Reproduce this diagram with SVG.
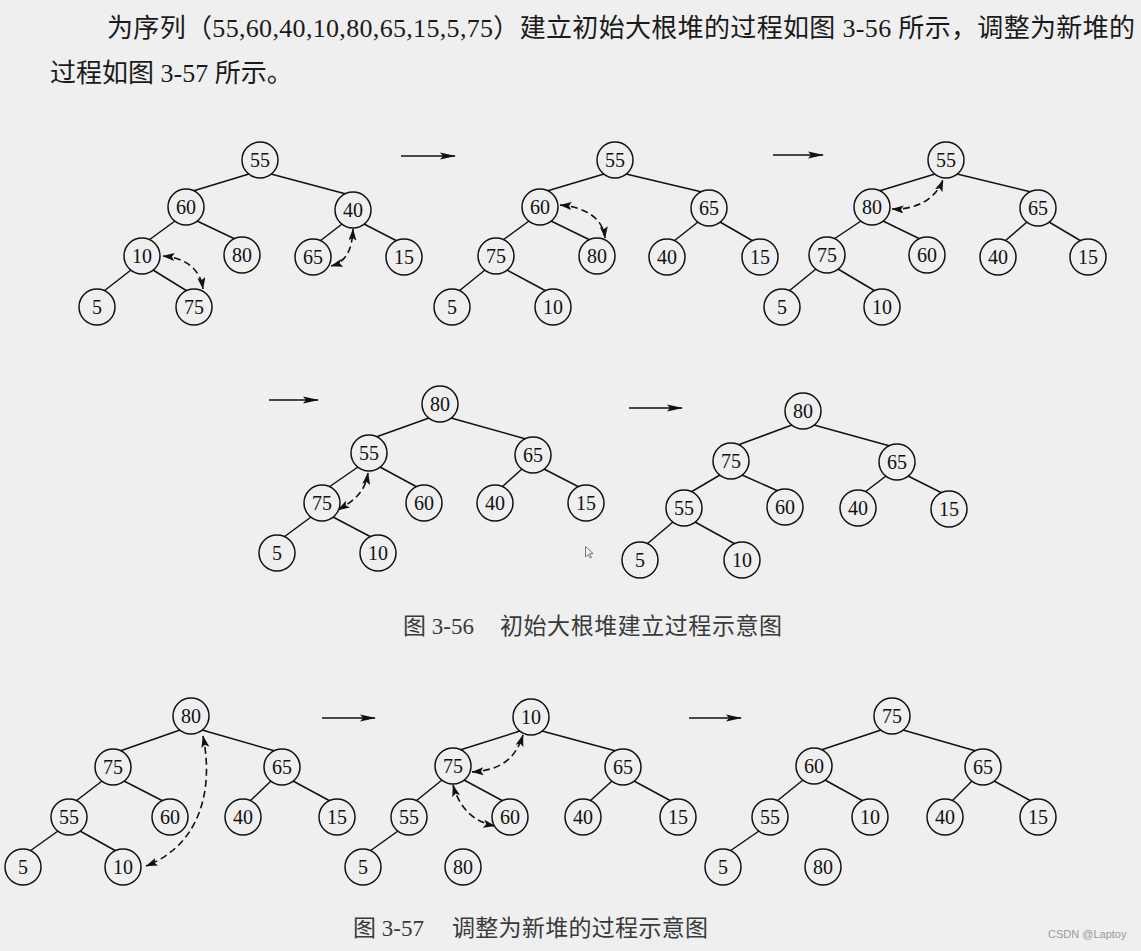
<svg xmlns="http://www.w3.org/2000/svg" width="1141" height="951" viewBox="0 0 1141 951">
<style>
.n circle{fill:#efefef;stroke:#111;stroke-width:1.5}
.n text{font-family:"Liberation Serif","Times New Roman",serif;font-size:20px;fill:#111;text-anchor:middle}
.e{stroke:#111;stroke-width:1.5;fill:none}
.d{stroke:#111;stroke-width:1.6;fill:none;stroke-dasharray:7 4;marker-start:url(#dh);marker-end:url(#dh)}
.s{stroke:#111;stroke-width:1.5;fill:none;marker-end:url(#sh)}
.body{font-family:"Liberation Serif","Noto Sans CJK SC",serif;font-size:26px;fill:#1a1a1a}
.cap{font-family:"Liberation Serif","Noto Sans CJK SC",serif;font-size:23px;fill:#3a3a3a}
</style>
<defs>
<marker id="sh" viewBox="0 0 16 8" refX="15" refY="4" markerWidth="16" markerHeight="8" markerUnits="userSpaceOnUse" orient="auto"><path d="M0,0.5 L16,4 L0,7.5 L3,4 z" fill="#111"/></marker>
<marker id="dh" viewBox="0 0 12 8" refX="11.5" refY="4" markerWidth="12" markerHeight="8" markerUnits="userSpaceOnUse" orient="auto-start-reverse"><path d="M0,0 L12,4 L0,8 L2.5,4 z" fill="#111"/></marker>
</defs>
<rect x="0" y="0" width="1141" height="951" fill="#efefef"/>
<text class="body" x="107" y="37" textLength="1028" lengthAdjust="spacing">为序列（55,60,40,10,80,65,15,5,75）建立初始大根堆的过程如图 3-56 所示，调整为新堆的</text>
<text class="body" x="50" y="82">过程如图 3-57 所示。</text>
<g id="connectors">
<!-- tree 1 -->
<line class="e" x1="249" y1="174" x2="193" y2="191"/><line class="e" x1="271" y1="174" x2="346" y2="194"/>
<line class="e" x1="175" y1="221" x2="149" y2="240"/><line class="e" x1="197" y1="221" x2="235" y2="239"/>
<line class="e" x1="342" y1="224" x2="320" y2="241"/><line class="e" x1="364" y1="224" x2="397" y2="241"/>
<line class="e" x1="131" y1="270" x2="104" y2="291"/><line class="e" x1="153" y1="270" x2="187" y2="291"/>
<!-- tree 2 -->
<line class="e" x1="604" y1="174" x2="547" y2="191"/><line class="e" x1="626" y1="174" x2="702" y2="192"/>
<line class="e" x1="529" y1="221" x2="503" y2="240"/><line class="e" x1="551" y1="221" x2="590" y2="240"/>
<line class="e" x1="698" y1="222" x2="674" y2="241"/><line class="e" x1="720" y1="222" x2="753" y2="241"/>
<line class="e" x1="485" y1="270" x2="459" y2="291"/><line class="e" x1="507" y1="270" x2="546" y2="291"/>
<!-- tree 3 -->
<line class="e" x1="935" y1="174" x2="879" y2="191"/><line class="e" x1="957" y1="174" x2="1031" y2="192"/>
<line class="e" x1="861" y1="221" x2="834" y2="239"/><line class="e" x1="883" y1="221" x2="920" y2="239"/>
<line class="e" x1="1027" y1="222" x2="1005" y2="241"/><line class="e" x1="1049" y1="222" x2="1081" y2="241"/>
<line class="e" x1="816" y1="269" x2="789" y2="291"/><line class="e" x1="838" y1="269" x2="875" y2="291"/>
<!-- tree 4 -->
<line class="e" x1="429" y1="418" x2="376" y2="437"/><line class="e" x1="451" y1="418" x2="526" y2="439"/>
<line class="e" x1="358" y1="467" x2="329" y2="487"/><line class="e" x1="380" y1="467" x2="417" y2="487"/>
<line class="e" x1="522" y1="469" x2="502" y2="487"/><line class="e" x1="544" y1="469" x2="579" y2="487"/>
<line class="e" x1="311" y1="517" x2="284" y2="537"/><line class="e" x1="333" y1="517" x2="371" y2="537"/>
<!-- tree 5 -->
<line class="e" x1="792" y1="425" x2="738" y2="445"/><line class="e" x1="814" y1="425" x2="890" y2="446"/>
<line class="e" x1="720" y1="475" x2="691" y2="492"/><line class="e" x1="742" y1="475" x2="778" y2="491"/>
<line class="e" x1="886" y1="476" x2="865" y2="492"/><line class="e" x1="908" y1="476" x2="942" y2="493"/>
<line class="e" x1="673" y1="522" x2="647" y2="544"/><line class="e" x1="695" y1="522" x2="735" y2="544"/>
<!-- tree 6 -->
<line class="e" x1="180" y1="730" x2="120" y2="751"/><line class="e" x1="202" y1="730" x2="275" y2="751"/>
<line class="e" x1="102" y1="781" x2="76" y2="801"/><line class="e" x1="124" y1="781" x2="163" y2="801"/>
<line class="e" x1="271" y1="781" x2="250" y2="801"/><line class="e" x1="293" y1="781" x2="330" y2="801"/>
<line class="e" x1="58" y1="831" x2="30" y2="851"/><line class="e" x1="80" y1="831" x2="116" y2="851"/>
<!-- tree 7 -->
<line class="e" x1="520" y1="731" x2="460" y2="750"/><line class="e" x1="542" y1="731" x2="616" y2="751"/>
<line class="e" x1="442" y1="780" x2="416" y2="801"/><line class="e" x1="464" y1="780" x2="503" y2="801"/>
<line class="e" x1="612" y1="781" x2="590" y2="801"/><line class="e" x1="634" y1="781" x2="671" y2="801"/>
<line class="e" x1="398" y1="831" x2="370" y2="851"/>
<!-- tree 8 -->
<line class="e" x1="881" y1="730" x2="821" y2="750"/><line class="e" x1="903" y1="730" x2="976" y2="751"/>
<line class="e" x1="803" y1="780" x2="777" y2="801"/><line class="e" x1="825" y1="780" x2="863" y2="801"/>
<line class="e" x1="972" y1="781" x2="952" y2="801"/><line class="e" x1="994" y1="781" x2="1031" y2="801"/>
<line class="e" x1="759" y1="831" x2="730" y2="851"/>
<!-- step arrows -->
<line class="s" x1="401" y1="156" x2="455" y2="156"/>
<line class="s" x1="773" y1="155" x2="823" y2="155"/>
<line class="s" x1="269" y1="400" x2="318" y2="400"/>
<line class="s" x1="629" y1="408" x2="682" y2="408"/>
<line class="s" x1="322" y1="718" x2="375" y2="718"/>
<line class="s" x1="689" y1="718" x2="741" y2="718"/>
<!-- swap arrows -->
<path class="d" d="M163,256 C185,258 200,268 203,289"/>
<path class="d" d="M331,266 C345,262 352,252 353,229"/>
<path class="d" d="M560,205 C585,207 603,218 605,238"/>
<path class="d" d="M892,209 C915,210 935,200 943,180"/>
<path class="d" d="M338,510 C355,500 365,492 368,473"/>
<path class="d" d="M203,736 C214,790 200,845 146,866"/>
<path class="d" d="M472,772 C500,770 515,760 523,735"/>
<path class="d" d="M453,785 C460,810 475,822 495,826"/>
</g>
<g id="nodes">
<g id="t1n0" class="n"><circle cx="260" cy="160" r="18"/><text x="260" y="167">55</text></g>
<g id="t1n1" class="n"><circle cx="186" cy="207" r="18"/><text x="186" y="214">60</text></g>
<g id="t1n2" class="n"><circle cx="353" cy="210" r="18"/><text x="353" y="217">40</text></g>
<g id="t1n3" class="n"><circle cx="142" cy="256" r="18"/><text x="142" y="263">10</text></g>
<g id="t1n4" class="n"><circle cx="242" cy="255" r="18"/><text x="242" y="262">80</text></g>
<g id="t1n5" class="n"><circle cx="313" cy="257" r="18"/><text x="313" y="264">65</text></g>
<g id="t1n6" class="n"><circle cx="404" cy="257" r="18"/><text x="404" y="264">15</text></g>
<g id="t1n7" class="n"><circle cx="97" cy="307" r="18"/><text x="97" y="314">5</text></g>
<g id="t1n8" class="n"><circle cx="194" cy="307" r="18"/><text x="194" y="314">75</text></g>

<g id="t2n0" class="n"><circle cx="615" cy="160" r="18"/><text x="615" y="167">55</text></g>
<g id="t2n1" class="n"><circle cx="540" cy="207" r="18"/><text x="540" y="214">60</text></g>
<g id="t2n2" class="n"><circle cx="709" cy="208" r="18"/><text x="709" y="215">65</text></g>
<g id="t2n3" class="n"><circle cx="496" cy="256" r="18"/><text x="496" y="263">75</text></g>
<g id="t2n4" class="n"><circle cx="597" cy="256" r="18"/><text x="597" y="263">80</text></g>
<g id="t2n5" class="n"><circle cx="667" cy="257" r="18"/><text x="667" y="264">40</text></g>
<g id="t2n6" class="n"><circle cx="760" cy="257" r="18"/><text x="760" y="264">15</text></g>
<g id="t2n7" class="n"><circle cx="452" cy="307" r="18"/><text x="452" y="314">5</text></g>
<g id="t2n8" class="n"><circle cx="553" cy="307" r="18"/><text x="553" y="314">10</text></g>

<g id="t3n0" class="n"><circle cx="946" cy="160" r="18"/><text x="946" y="167">55</text></g>
<g id="t3n1" class="n"><circle cx="872" cy="207" r="18"/><text x="872" y="214">80</text></g>
<g id="t3n2" class="n"><circle cx="1038" cy="208" r="18"/><text x="1038" y="215">65</text></g>
<g id="t3n3" class="n"><circle cx="827" cy="255" r="18"/><text x="827" y="262">75</text></g>
<g id="t3n4" class="n"><circle cx="927" cy="255" r="18"/><text x="927" y="262">60</text></g>
<g id="t3n5" class="n"><circle cx="998" cy="257" r="18"/><text x="998" y="264">40</text></g>
<g id="t3n6" class="n"><circle cx="1088" cy="257" r="18"/><text x="1088" y="264">15</text></g>
<g id="t3n7" class="n"><circle cx="782" cy="307" r="18"/><text x="782" y="314">5</text></g>
<g id="t3n8" class="n"><circle cx="882" cy="307" r="18"/><text x="882" y="314">10</text></g>

<g id="t4n0" class="n"><circle cx="440" cy="404" r="18"/><text x="440" y="411">80</text></g>
<g id="t4n1" class="n"><circle cx="369" cy="453" r="18"/><text x="369" y="460">55</text></g>
<g id="t4n2" class="n"><circle cx="533" cy="455" r="18"/><text x="533" y="462">65</text></g>
<g id="t4n3" class="n"><circle cx="322" cy="503" r="18"/><text x="322" y="510">75</text></g>
<g id="t4n4" class="n"><circle cx="424" cy="503" r="18"/><text x="424" y="510">60</text></g>
<g id="t4n5" class="n"><circle cx="495" cy="503" r="18"/><text x="495" y="510">40</text></g>
<g id="t4n6" class="n"><circle cx="586" cy="503" r="18"/><text x="586" y="510">15</text></g>
<g id="t4n7" class="n"><circle cx="277" cy="553" r="18"/><text x="277" y="560">5</text></g>
<g id="t4n8" class="n"><circle cx="378" cy="553" r="18"/><text x="378" y="560">10</text></g>

<g id="t5n0" class="n"><circle cx="803" cy="411" r="18"/><text x="803" y="418">80</text></g>
<g id="t5n1" class="n"><circle cx="731" cy="461" r="18"/><text x="731" y="468">75</text></g>
<g id="t5n2" class="n"><circle cx="897" cy="462" r="18"/><text x="897" y="469">65</text></g>
<g id="t5n3" class="n"><circle cx="684" cy="508" r="18"/><text x="684" y="515">55</text></g>
<g id="t5n4" class="n"><circle cx="785" cy="507" r="18"/><text x="785" y="514">60</text></g>
<g id="t5n5" class="n"><circle cx="858" cy="508" r="18"/><text x="858" y="515">40</text></g>
<g id="t5n6" class="n"><circle cx="949" cy="509" r="18"/><text x="949" y="516">15</text></g>
<g id="t5n7" class="n"><circle cx="640" cy="560" r="18"/><text x="640" y="567">5</text></g>
<g id="t5n8" class="n"><circle cx="742" cy="560" r="18"/><text x="742" y="567">10</text></g>

<g id="t6n0" class="n"><circle cx="191" cy="716" r="18"/><text x="191" y="723">80</text></g>
<g id="t6n1" class="n"><circle cx="113" cy="767" r="18"/><text x="113" y="774">75</text></g>
<g id="t6n2" class="n"><circle cx="282" cy="767" r="18"/><text x="282" y="774">65</text></g>
<g id="t6n3" class="n"><circle cx="69" cy="817" r="18"/><text x="69" y="824">55</text></g>
<g id="t6n4" class="n"><circle cx="170" cy="817" r="18"/><text x="170" y="824">60</text></g>
<g id="t6n5" class="n"><circle cx="243" cy="817" r="18"/><text x="243" y="824">40</text></g>
<g id="t6n6" class="n"><circle cx="337" cy="817" r="18"/><text x="337" y="824">15</text></g>
<g id="t6n7" class="n"><circle cx="23" cy="867" r="18"/><text x="23" y="874">5</text></g>
<g id="t6n8" class="n"><circle cx="123" cy="867" r="18"/><text x="123" y="874">10</text></g>

<g id="t7n0" class="n"><circle cx="531" cy="717" r="18"/><text x="531" y="724">10</text></g>
<g id="t7n1" class="n"><circle cx="453" cy="766" r="18"/><text x="453" y="773">75</text></g>
<g id="t7n2" class="n"><circle cx="623" cy="767" r="18"/><text x="623" y="774">65</text></g>
<g id="t7n3" class="n"><circle cx="409" cy="817" r="18"/><text x="409" y="824">55</text></g>
<g id="t7n4" class="n"><circle cx="510" cy="817" r="18"/><text x="510" y="824">60</text></g>
<g id="t7n5" class="n"><circle cx="583" cy="817" r="18"/><text x="583" y="824">40</text></g>
<g id="t7n6" class="n"><circle cx="678" cy="817" r="18"/><text x="678" y="824">15</text></g>
<g id="t7n7" class="n"><circle cx="363" cy="867" r="18"/><text x="363" y="874">5</text></g>
<g id="t7n8" class="n"><circle cx="463" cy="867" r="18"/><text x="463" y="874">80</text></g>

<g id="t8n0" class="n"><circle cx="892" cy="716" r="18"/><text x="892" y="723">75</text></g>
<g id="t8n1" class="n"><circle cx="814" cy="766" r="18"/><text x="814" y="773">60</text></g>
<g id="t8n2" class="n"><circle cx="983" cy="767" r="18"/><text x="983" y="774">65</text></g>
<g id="t8n3" class="n"><circle cx="770" cy="817" r="18"/><text x="770" y="824">55</text></g>
<g id="t8n4" class="n"><circle cx="870" cy="817" r="18"/><text x="870" y="824">10</text></g>
<g id="t8n5" class="n"><circle cx="945" cy="817" r="18"/><text x="945" y="824">40</text></g>
<g id="t8n6" class="n"><circle cx="1038" cy="817" r="18"/><text x="1038" y="824">15</text></g>
<g id="t8n7" class="n"><circle cx="723" cy="867" r="18"/><text x="723" y="874">5</text></g>
<g id="t8n8" class="n"><circle cx="823" cy="867" r="18"/><text x="823" y="874">80</text></g>
</g>
<text class="cap" x="403" y="634">图 3-56</text>
<text class="cap" x="500" y="634" textLength="282">初始大根堆建立过程示意图</text>
<text class="cap" x="353" y="936">图 3-57</text>
<text class="cap" x="452" y="936" textLength="256">调整为新堆的过程示意图</text>
<text x="1048" y="938" font-family="Liberation Sans, Arial, sans-serif" font-size="11" fill="#999">CSDN @Laptoy</text>
<path d="M585.5,546.5 L585.5,557 L588,554.5 L590,558 L591.5,557.3 L589.6,553.8 L593,553.5 z" fill="#f5f5f5" stroke="#555" stroke-width="0.8"/>
</svg>
